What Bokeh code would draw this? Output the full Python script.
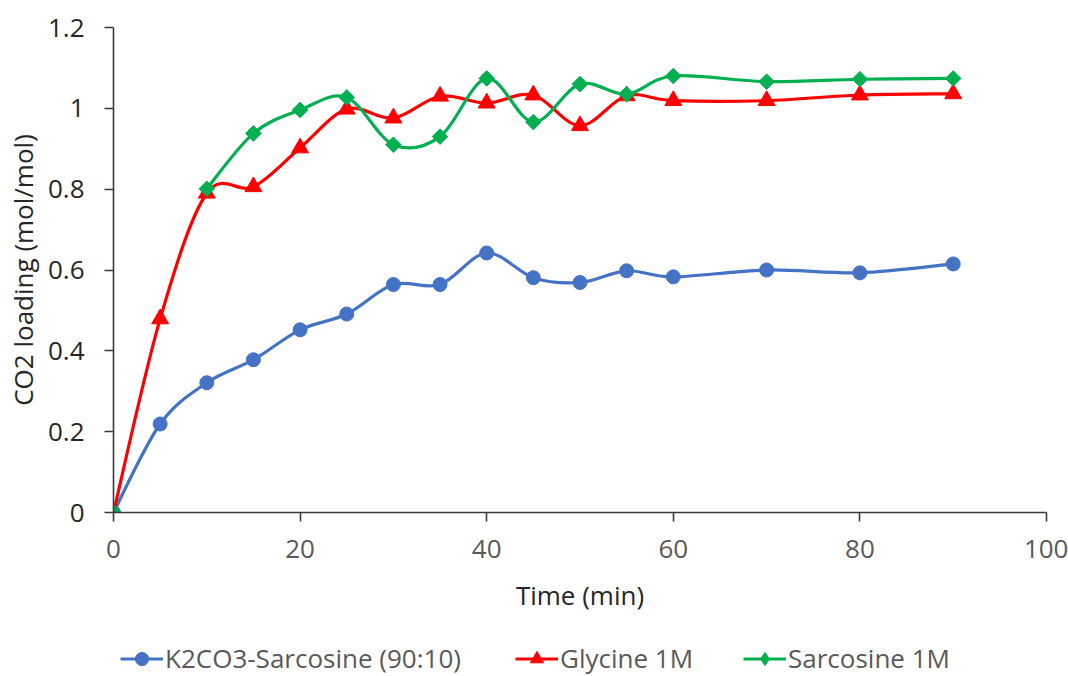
import math

from bokeh.plotting import figure
from bokeh.layouts import column
from bokeh.models import Range1d, FixedTicker, Legend, LegendItem, ColumnDataSource
from bokeh.embed import file_html
from bokeh.resources import INLINE

# CO2 absorption kinetics: loading (mol CO2 / mol solvent) vs. time
time_min = [0, 5, 10, 15, 20, 25, 30, 35, 40, 45, 50, 55, 60, 70, 80, 90]
k2co3_sarcosine = [0, 0.219, 0.321, 0.378, 0.452, 0.491, 0.564, 0.564, 0.642,
                   0.581, 0.569, 0.598, 0.583, 0.600, 0.593, 0.615]
glycine_1m = [0, 0.479, 0.790, 0.806, 0.902, 0.998, 0.976, 1.030, 1.013,
              1.033, 0.957, 1.031, 1.019, 1.019, 1.033, 1.036]
# no reading at 5 min for sarcosine
sarcosine_1m = [0, None, 0.801, 0.938, 0.996, 1.027, 0.910, 0.930, 1.074,
                0.966, 1.060, 1.035, 1.080, 1.066, 1.072, 1.074]

series_names = ["K2CO3-Sarcosine (90:10)", "Glycine 1M", "Sarcosine 1M"]
series_colors = ["#4472C4", "#FF0000", "#00B050"]

x_ticks = [0, 20, 40, 60, 80, 100]
y_ticks = [0, 0.2, 0.4, 0.6, 0.8, 1.0, 1.2]
y_tick_labels = ["0", "0.2", "0.4", "0.6", "0.8", "1", "1.2"]

FONT = "Open Sans"
FS = "26px"
W = 1068
PLOT_H = 625
LEGEND_H = 51


def smooth_segments(xs, ys):
    """Cubic Bezier pieces through the points (Catmull-Rom style smoothing),
    breaking the curve wherever a value is missing."""
    runs, cur = [], []
    for x, y in zip(xs, ys):
        if y is None:
            if cur:
                runs.append(cur)
            cur = []
        else:
            cur.append((x, y))
    if cur:
        runs.append(cur)
    seg = {k: [] for k in ("x0", "y0", "x1", "y1", "cx0", "cy0", "cx1", "cy1")}
    for run in runs:
        n = len(run)
        for i in range(n - 1):
            p0 = run[max(i - 1, 0)]
            p1 = run[i]
            p2 = run[i + 1]
            p3 = run[min(i + 2, n - 1)]
            seg["x0"].append(p1[0]); seg["y0"].append(p1[1])
            seg["x1"].append(p2[0]); seg["y1"].append(p2[1])
            seg["cx0"].append(p1[0] + (p2[0] - p0[0]) / 6.0)
            seg["cy0"].append(p1[1] + (p2[1] - p0[1]) / 6.0)
            seg["cx1"].append(p2[0] - (p3[0] - p1[0]) / 6.0)
            seg["cy1"].append(p2[1] - (p3[1] - p1[1]) / 6.0)
    return seg


def points(xs, ys):
    pts = [(x, y) for x, y in zip(xs, ys) if y is not None]
    return dict(x=[q[0] for q in pts], y=[q[1] for q in pts])


p = figure(width=W, height=PLOT_H, output_backend="svg", toolbar_location=None,
           x_range=Range1d(0, 100), y_range=Range1d(0, 1.2),
           min_border_left=113, min_border_right=22,
           min_border_top=27, min_border_bottom=PLOT_H - 512)
p.outline_line_color = None
p.xgrid.visible = False
p.ygrid.visible = False

for ax in (p.xaxis, p.yaxis):
    ax.axis_line_color = "#3a3a3a"
    ax.axis_line_width = 1.6
    ax.major_tick_line_color = "#3a3a3a"
    ax.major_tick_line_width = 1.6
    ax.major_tick_out = 9
    ax.major_tick_in = 0
    ax.minor_tick_line_color = None
    ax.major_label_text_font = FONT
    ax.major_label_text_font_size = FS
    ax.axis_label_text_font = FONT
    ax.axis_label_text_font_size = FS
    ax.axis_label_text_font_style = "normal"
    ax.axis_label_text_color = "#262626"

p.xaxis.ticker = FixedTicker(ticks=x_ticks)
p.xaxis.major_label_text_color = "#595959"
p.xaxis.major_label_standoff = 18
p.xaxis.axis_label = "Time (min)"
p.xaxis.axis_label_standoff = 16

p.yaxis.ticker = FixedTicker(ticks=y_ticks)
p.yaxis.major_label_overrides = {t: lab for t, lab in zip(y_ticks, y_tick_labels)}
p.yaxis.major_label_text_color = "#262626"
p.yaxis.major_label_standoff = 20
p.yaxis.axis_label = "CO2 loading (mol/mol)"
p.yaxis.axis_label_standoff = 4

markers = [
    dict(marker="circle", size=14, angle=0.0),
    dict(marker="triangle", size=17, angle=0.0),
    dict(marker="square", size=11, angle=math.pi / 4),
]
legend_markers = ["circle", "triangle", "diamond"]
all_series = [k2co3_sarcosine, glycine_1m, sarcosine_1m]

for color, ys, mk in zip(series_colors, all_series, markers):
    p.bezier(x0="x0", y0="y0", x1="x1", y1="y1", cx0="cx0", cy0="cy0",
             cx1="cx1", cy1="cy1", source=ColumnDataSource(smooth_segments(time_min, ys)),
             line_color=color, line_width=3.2)
    p.scatter("x", "y", source=ColumnDataSource(points(time_min, ys)),
              marker=mk["marker"], size=mk["size"], angle=mk["angle"],
              fill_color=color, line_color=color)

# Legend strip under the chart: the same series drawn out of view, so only
# their legend swatches show. Its frame lines up with the chart's frame.
leg = figure(width=W, height=LEGEND_H, output_backend="svg", toolbar_location=None,
             x_range=Range1d(0, 100), y_range=Range1d(10, 11),
             x_axis_location=None, y_axis_location=None,
             min_border_left=113, min_border_right=22, min_border_top=0,
             min_border_bottom=0)
leg.grid.visible = False
leg.outline_line_color = None

legend_x = [7, 402, 630]
for name, color, ys, mk, lx in zip(series_names, series_colors, all_series,
                                   legend_markers, legend_x):
    src = ColumnDataSource(points(time_min, ys))
    ln = leg.line("x", "y", source=src, line_color=color, line_width=3.2)
    sc = leg.scatter("x", "y", source=src, marker=mk, size=14,
                     fill_color=color, line_color=color)
    lg = Legend(items=[LegendItem(label=name, renderers=[ln, sc])],
                location=(lx, 0), orientation="horizontal",
                padding=0, margin=0, spacing=0, glyph_width=43, glyph_height=33,
                label_height=33, label_standoff=2,
                label_text_font=FONT, label_text_font_size=FS,
                label_text_color="#595959",
                border_line_alpha=0, background_fill_alpha=0)
    leg.add_layout(lg, "center")

with open("out.html", "w") as f:
    f.write(file_html(column(p, leg, spacing=0), INLINE))
